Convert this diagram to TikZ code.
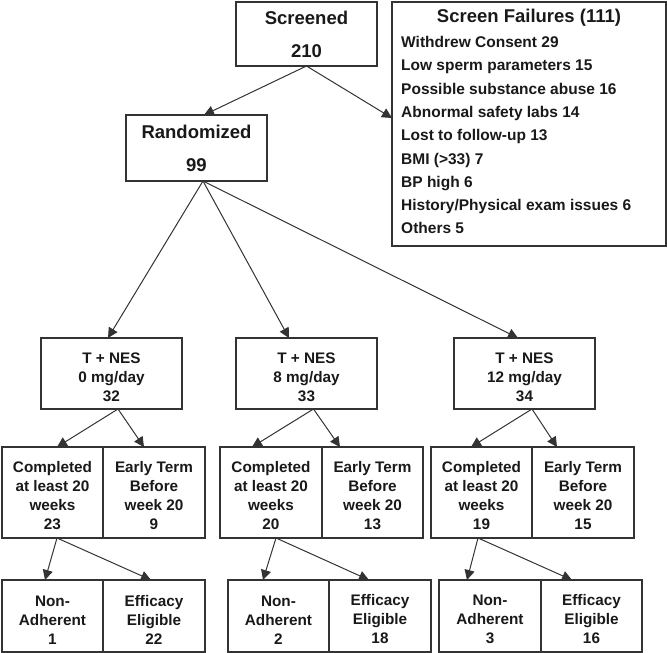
\documentclass[tikz,border=0pt]{standalone}
\usepackage{fontspec}
\setmainfont{Liberation Sans}
\usetikzlibrary{arrows.meta}
\newcommand\topstrut{\rule{0pt}{18pt}}
\begin{document}
\begin{tikzpicture}[x=1pt,y=-1pt,
  frame/.style={draw=black!80, line width=1.2pt, inner sep=0pt, outer sep=0pt, align=center, text=black!90},
  box/.style={frame, font=\bfseries\fontsize{15.3}{19}\selectfont},
  bigbox/.style={frame, font=\bfseries\fontsize{18.5}{33}\selectfont},
  listtxt/.style={anchor=base west, inner sep=0pt, font=\bfseries\fontsize{15.5}{19}\selectfont, text=black!90},
  titletxt/.style={anchor=base, inner sep=0pt, font=\bfseries\fontsize{18.5}{22}\selectfont, text=black!90},
  arr/.style={draw=black!80, line width=1pt, -{Triangle[length=10pt,width=10pt]}}
]
\useasboundingbox (0,0) rectangle (667,653);

% top
\node[bigbox, minimum width=141pt, minimum height=64pt] (scr) at (306.5,34) {Screened\\210};
\node[bigbox, minimum width=141pt, minimum height=66pt] (rnd) at (196.5,148) {Randomized\\99};
\node[frame, minimum width=274pt, minimum height=244pt] (fail) at (529,124) {};
\node[titletxt] (ftitle) at (529,22.6) {Screen Failures (111)};
\node[listtxt] (f1) at (401,47.5) {Withdrew Consent 29};
\node[listtxt] (f2) at (401,70.8) {Low sperm parameters 15};
\node[listtxt] (f3) at (401,94.1) {Possible substance abuse 16};
\node[listtxt] (f4) at (401,117.4) {Abnormal safety labs 14};
\node[listtxt] (f5) at (401,140.7) {Lost to follow-up 13};
\node[listtxt] (f6) at (401,164.0) {BMI (>33) 7};
\node[listtxt] (f7) at (401,187.3) {BP high 6};
\node[listtxt] (f8) at (401,210.6) {History/Physical exam issues 6};
\node[listtxt] (f9) at (401,233.9) {Others 5};

% arms
\node[box, minimum width=141pt, minimum height=71pt] (t0) at (111.5,373.5) {\topstrut T + NES\\0 mg/day\\32};
\node[box, minimum width=141pt, minimum height=71pt] (t8) at (306.5,373.5) {\topstrut T + NES\\8 mg/day\\33};
\node[box, minimum width=141pt, minimum height=71pt] (t12) at (524.5,373.5) {\topstrut T + NES\\12 mg/day\\34};

% second row
\node[box, minimum width=101pt, minimum height=91pt] (c0) at (52.5,492.5) {\topstrut Completed\\at least 20\\weeks\\23};
\node[box, minimum width=102pt, minimum height=91pt] (e0) at (154,492.5) {\topstrut Early Term\\Before\\week 20\\9};
\node[box, minimum width=102pt, minimum height=91pt] (c8) at (271,492.5) {\topstrut Completed\\at least 20\\weeks\\20};
\node[box, minimum width=101pt, minimum height=91pt] (e8) at (372.5,492.5) {\topstrut Early Term\\Before\\week 20\\13};
\node[box, minimum width=101pt, minimum height=91pt] (c12) at (481.5,492.5) {\topstrut Completed\\at least 20\\weeks\\19};
\node[box, minimum width=102pt, minimum height=91pt] (e12) at (583,492.5) {\topstrut Early Term\\Before\\week 20\\15};

% third row
\node[box, minimum width=101pt, minimum height=72pt] (n0) at (52.5,616) {\topstrut Non-\\Adherent\\1};
\node[box, minimum width=102pt, minimum height=72pt] (g0) at (154,616) {\topstrut Efficacy\\Eligible\\22};
\node[box, minimum width=101pt, minimum height=72pt] (n8) at (278.5,616) {\topstrut Non-\\Adherent\\2};
\node[box, minimum width=102pt, minimum height=72pt] (g8) at (380,616) {\topstrut Efficacy\\Eligible\\18};
\node[box, minimum width=102pt, minimum height=72pt] (n12) at (490,616) {\topstrut Non-\\Adherent\\3};
\node[box, minimum width=101pt, minimum height=72pt] (g12) at (591.5,616) {\topstrut Efficacy\\Eligible\\16};

% arrows
\draw[arr] (scr.south) -- ([xshift=7.5pt]rnd.north);
\draw[arr] (scr.south) -- ([yshift=6pt]fail.west);
\draw[arr] ([xshift=6.5pt]rnd.south) -- ([xshift=-3.5pt]t0.north);
\draw[arr] ([xshift=6.5pt]rnd.south) -- ([xshift=-17.5pt]t8.north);
\draw[arr] ([xshift=6.5pt]rnd.south) -- ([xshift=-6.5pt]t12.north);

\draw[arr] ([xshift=6.5pt]t0.south) -- ([xshift=4.5pt]c0.north);
\draw[arr] ([xshift=6.5pt]t0.south) -- ([xshift=-10pt]e0.north);
\draw[arr] ([xshift=7pt]t8.south) -- ([xshift=-19pt]c8.north);
\draw[arr] ([xshift=7pt]t8.south) -- ([xshift=-32.5pt]e8.north);
\draw[arr] ([xshift=7.5pt]t12.south) -- ([xshift=-10.5pt]c12.north);
\draw[arr] ([xshift=7.5pt]t12.south) -- ([xshift=-26pt]e12.north);

\draw[arr] ([xshift=4.5pt]c0.south) -- ([xshift=-7.5pt]n0.north);
\draw[arr] ([xshift=4.5pt]c0.south) -- ([xshift=-3pt]g0.north);
\draw[arr] ([xshift=5pt]c8.south) -- ([xshift=-15.5pt]n8.north);
\draw[arr] ([xshift=5pt]c8.south) -- ([xshift=-11pt]g8.north);
\draw[arr] ([xshift=-3.5pt]c12.south) -- ([xshift=-23pt]n12.north);
\draw[arr] ([xshift=-3.5pt]c12.south) -- ([xshift=-19.5pt]g12.north);
\end{tikzpicture}
\end{document}
